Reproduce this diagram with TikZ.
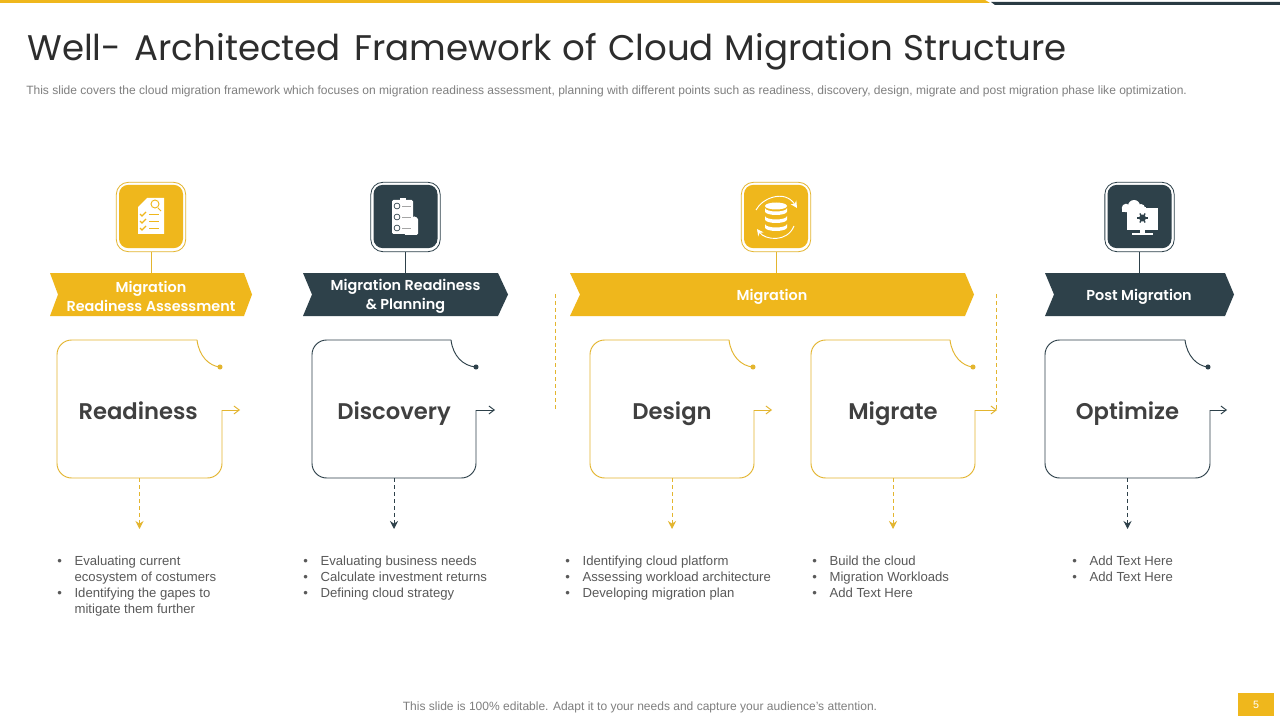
\documentclass[tikz,border=0pt]{standalone}
\usepackage{fontspec}
\setmainfont{Liberation Sans}
\newfontfamily\geo{Poppins}
\newfontfamily\geosemi{Poppins SemiBold}
\newfontfamily\geomed{Poppins Medium}
\usetikzlibrary{arrows.meta,calc}
\definecolor{ylw}{HTML}{EFB71C}
\definecolor{ylwline}{HTML}{E3B52F}
\definecolor{drk}{HTML}{2E414A}
\definecolor{txt}{HTML}{404040}
\definecolor{gry}{HTML}{7F7F7F}
\definecolor{bod}{HTML}{595959}
\tikzset{
  x=.75pt,y=-.75pt,
  title/.style={anchor=base west,inner sep=0,font=\geo\fontsize{26.7}{32}\selectfont,text=txt!70!black},
  sub/.style={anchor=west,inner sep=0,font=\fontsize{9.02}{12}\selectfont,text=gry},
  iconbox/.style={minimum width=48pt,minimum height=47.5pt,inner sep=0,rounded corners=7pt},
  iconring/.style={minimum width=52pt,minimum height=52pt,inner sep=0,rounded corners=9pt,draw=#1,line width=.6pt},
  bantext/.style={minimum height=32.25pt,inner sep=0,align=center,text=white,font=\geosemi\fontsize{10.8}{14.2}\selectfont},
  cardnode/.style={minimum width=123.75pt,minimum height=103.5pt,inner sep=0,text height=17pt,text depth=2pt,text=txt,font=\geosemi\fontsize{17}{21}\selectfont},
  cardline/.style={line width=.7pt},
  open/.style={-{Straight Barb[length=4pt,width=6pt,line width=.7pt]}},
  dashline/.style={line width=.7pt,dash pattern=on 3pt off 2.2pt,-{Stealth[length=6pt,width=6pt,inset=2pt]}},
  sidedash/.style={line width=.6pt,draw=ylwline,dash pattern=on 3pt off 2.2pt},
  bullets/.style={anchor=north west,inner sep=0,align=left,text=bod,font=\fontsize{9.85}{12}\selectfont},
}
\newcommand\bl{\makebox[13pt][l]{•}}
\newcommand\nb{\hspace*{13pt}}
% name, left, right, notch, dot x, arrow end, colour, label
\newcommand\cardbox[8]{%
  \node[cardnode] (#1) at ({(#2+#3)/2},409) {#8};
  \draw[cardline,draw=#7,rounded corners=11pt] (#4,340) -- (#2,340) -- (#2,478) -- (#3,478) [sharp corners] -- (#3,410);
  \draw[cardline,draw=#7,open] (#3,410) -- (#6,410);
  \draw[cardline,draw=#7] (#4,340) .. controls (#4+2,356) and (#4+12,366) .. (#5,367);
  \fill[#7] (#5,367) circle (1.9pt);
}
% name, left, notch, right shoulder, tip, colour, label, centre x
\newcommand\banner[8]{%
  \fill[#6] (#2,273) -- (#4,273) -- (#5,294.5) -- (#4,316) -- (#2,316) -- (#3,294.5) -- cycle;
  \node[bantext] (#1) at (#8,296.5) {#7};
}
\begin{document}
\begin{tikzpicture}
\useasboundingbox (0,0) rectangle (1280,720);
\fill[white] (0,0) rectangle (1280,720);
% top bar
\fill[ylw] (0,0) -- (985,0) -- (990,3) -- (0,3) -- cycle;
\fill[drk!90!black] (991,2) -- (1280,2) -- (1280,5) -- (995,5) -- cycle;
% heading
\node[title] (ttl) at (27,61) {Well-\hspace{3pt} Architected\hspace{3pt} Framework\hspace{1pt} of\hspace{1pt} Cloud\hspace{1pt} Migration\hspace{1pt} Structure};
\node[sub] (subttl) at (26,91.5) {This slide covers the cloud migration framework which focuses on migration readiness assessment, planning with different points such as readiness, discovery, design, migrate and post migration phase like optimization.};
% banners
\banner{b1}{50}{58}{244}{252}{ylw}{Migration\\Readiness Assessment}{151}
\banner{b2}{303}{312}{498}{508}{drk}{Migration Readiness\\\& Planning}{405.5}
\banner{b3}{570}{580}{965}{974}{ylw}{Migration}{772}
\banner{b4}{1045}{1054}{1225}{1234}{drk}{Post Migration}{1139}
% icon boxes
\node[iconring=ylwline] (r1) at (151,217) {};
\node[iconring=drk] (r2) at (405.5,217) {};
\node[iconring=ylwline] (r3) at (776,217) {};
\node[iconring=drk] (r4) at (1139.5,217) {};
\node[iconbox,fill=ylw] (i1) at (151,216.5) {};
\node[iconbox,fill=drk] (i2) at (405.5,216.5) {};
\node[iconbox,fill=ylw] (i3) at (776,216.5) {};
\node[iconbox,fill=drk] (i4) at (1139.5,216.5) {};
\draw[ylwline,line width=.7pt] (r1.south) -- (r1.south |- 0,273);
\draw[drk,line width=.7pt] (r2.south) -- (r2.south |- 0,273);
\draw[ylwline,line width=.7pt] (r3.south) -- (r3.south |- 0,273);
\draw[drk,line width=.7pt] (r4.south) -- (r4.south |- 0,273);
% icon 1: document with magnifier
\fill[white] (147,198) -- (164,198) -- (164,234) -- (138,234) -- (138,207) -- cycle;
\draw[ylw,line width=.7pt] (155,204) circle (3pt) (158,208) -- (161,211);
\foreach \yy in {214,221,228}{
  \draw[ylw,line width=.8pt] (140,\yy) -- (142,\yy+2) -- (146,\yy-2);
  \draw[ylw,line width=.7pt] (149,\yy) -- (159,\yy);
}
% icon 2: clipboard
\fill[white,rounded corners=1pt] (413,216) -- (418,218) -- (418,235) -- (404,235) -- cycle;
\fill[white,rounded corners=1pt] (392,200) rectangle (413,234);
\fill[white] (400,198) rectangle (406,201);
\foreach \yy in {206,217,228}{
  \draw[drk,line width=.5pt] (397,\yy) circle (2.2pt);
  \draw[gry!70,line width=.7pt] (402,\yy) -- (411,\yy);
}
% icon 3: database with arrows
\foreach \yy in {224,216,208}{
  \fill[white] (765,\yy) arc[start angle=180,end angle=360,x radius=11,y radius=-3.5]
     -- (787,\yy+3.5) arc[start angle=0,end angle=-180,x radius=11,y radius=-3.5] -- cycle;
}
\fill[white] (776,206) ellipse [x radius=11,y radius=3.5];
\draw[white,line width=.7pt,-{Stealth[length=5pt,width=5pt]}] (756,210) .. controls (762,198) and (785,189) .. (797,208);
\draw[white,line width=.7pt,-{Stealth[length=5pt,width=5pt]}] (794,226) .. controls (787,243) and (765,240) .. (757,229);
% icon 4: cloud and monitor
\fill[white] (1127,208) rectangle (1158,230);
\fill[white] (1126,208) circle (3.2pt) (1134,206) circle (4.5pt) (1141,208) circle (3pt);
\fill[white] (1126,207) rectangle (1146,212.5);
\fill[white] (1122,208) rectangle (1128,212.5);
\fill[white] (1140,230) rectangle (1145,233);
\fill[white] (1132,233) rectangle (1153,235);
\fill[drk] (1142.5,218) circle (2.6pt);
\foreach \a in {0,60,...,300}{\draw[drk,line width=1pt] (1142.5,218) -- ++({\a}:5.2);}
% cards
\cardbox{c1}{57}{222}{197}{220}{240}{ylwline}{\hspace*{-2pt}Readiness}
\cardbox{c2}{312}{476}{451}{476}{495}{drk}{Discovery}
\cardbox{c3}{590}{754}{729}{753}{772}{ylwline}{Design}
\cardbox{c4}{811}{975}{950}{973}{997}{ylwline}{Migrate}
\cardbox{c5}{1045}{1210}{1185}{1208}{1227}{drk}{Optimize}
% down arrows
\coordinate (d1) at (c1.south |- 0,529);
\coordinate (d2) at (c2.south |- 0,529);
\coordinate (d3) at (c3.south |- 0,529);
\coordinate (d4) at (c4.south |- 0,529);
\coordinate (d5) at (c5.south |- 0,529);
\draw[dashline,draw=ylwline] (c1.south) -- (d1);
\draw[dashline,draw=drk] (c2.south) -- (d2);
\draw[dashline,draw=ylwline] (c3.south) -- (d3);
\draw[dashline,draw=ylwline] (c4.south) -- (d4);
\draw[dashline,draw=drk] (c5.south) -- (d5);
% side dashes
\coordinate (s1) at (555,294);
\coordinate (s2) at (555,410);
\coordinate (s3) at (996,294);
\coordinate (s4) at (996,410);
\draw[sidedash] (s1) -- (s2);
\draw[sidedash] (s3) -- (s4);
% bullets
\node[bullets] (t1) at (57,556) {\bl Evaluating current\\\nb ecosystem of costumers\\\bl Identifying the gapes to\\\nb mitigate them further};
\node[bullets] (t2) at (303,556) {\bl Evaluating business needs\\\bl Calculate investment returns\\\bl Defining cloud strategy};
\node[bullets] (t3) at (565,556) {\bl Identifying cloud platform\\\bl Assessing workload architecture\\\bl Developing migration plan};
\node[bullets] (t4) at (812,556) {\bl Build the cloud\\\bl Migration Workloads\\\bl Add Text Here};
\node[bullets] (t5) at (1072,556) {\bl Add Text Here\\\bl Add Text Here};
% footer
\node[sub,anchor=center] (foot) at (640,707) {This slide is 100\% editable. Adapt it to your needs and capture your audience's attention.};
\node[fill=ylw,minimum width=27pt,minimum height=17.5pt,inner sep=0,text=white,font=\fontsize{8}{10}\selectfont] (pg) at (1256,704.5) {5};
\end{tikzpicture}
\end{document}
